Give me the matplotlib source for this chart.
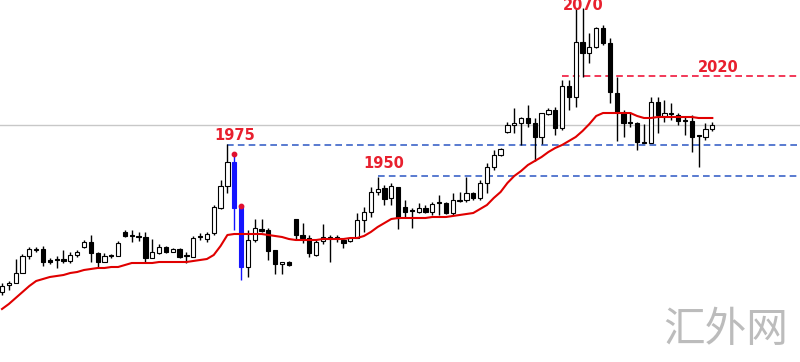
import numpy as np
import matplotlib
matplotlib.use('Agg')
import matplotlib.pyplot as plt

# candle values (arbitrary price units)
opens = [108, 115, 117, 127, 144, 150, 151, 140, 140, 141, 139, 145, 153, 158, 147, 138, 144, 144,
         168, 164, 163, 163, 142, 147, 153, 148, 151, 145, 143, 163, 161, 167, 192, 214, 238, 194,
         133, 160, 171, 170, 150, 136, 138, 181, 165, 162, 145, 159, 162, 162, 160, 159, 162, 180,
         188, 208, 212, 202, 213, 193, 189, 188, 192, 188, 197, 197, 187, 199, 200, 207, 202, 217,
         233, 245, 268, 275, 277, 282, 277, 263, 286, 290, 272, 314, 303, 358, 347, 353, 372, 357,
         307, 287, 277, 277, 258, 257, 298, 284, 286, 285, 279, 279, 264, 263, 271]
closes = [114, 117, 127, 144, 151, 151, 138, 138, 140, 139, 145, 148, 158, 147, 138, 144, 144, 157,
          164, 164, 163, 142, 148, 153, 148, 151, 143, 144, 162, 163, 166, 193, 214, 238, 192, 133,
          160, 172, 169, 149, 136, 138, 135, 165, 162, 147, 158, 163, 162, 162, 157, 162, 180, 188,
          208, 211, 201, 214, 182, 188, 189, 192, 188, 196, 197, 187, 200, 200, 207, 202, 217, 233,
          245, 251, 275, 277, 282, 277, 263, 287, 290, 272, 314, 303, 358, 347, 353, 372, 357, 308,
          288, 277, 277, 258, 257, 298, 285, 287, 286, 279, 279, 263, 264, 271, 275]
highs = [117, 119, 141, 146, 153, 153, 154, 142, 144, 150, 148, 150, 160, 165, 148, 147, 146, 159,
         170, 170, 168, 168, 161, 156, 154, 152, 152, 148, 164, 167, 168, 195, 220, 256, 246, 194,
         170, 181, 181, 172, 150, 138, 139, 181, 177, 165, 160, 176, 165, 165, 162, 163, 187, 193,
         213, 223, 215, 217, 213, 200, 192, 197, 195, 198, 205, 198, 207, 208, 223, 208, 220, 237,
         250, 252, 278, 292, 283, 295, 282, 287, 292, 293, 320, 320, 392, 392, 367, 373, 375, 362,
         323, 290, 288, 278, 276, 303, 303, 300, 297, 287, 283, 285, 265, 277, 278]
lows = [105, 110, 117, 127, 141, 148, 134, 136, 132, 137, 137, 143, 152, 138, 133, 138, 142, 144,
        163, 158, 159, 138, 142, 146, 147, 148, 142, 137, 143, 160, 158, 165, 191, 207, 170, 120,
        123, 158, 168, 140, 126, 126, 134, 160, 157, 143, 144, 156, 138, 158, 152, 158, 162, 168,
        183, 205, 195, 195, 171, 183, 172, 187, 187, 185, 185, 186, 185, 198, 198, 200, 200, 207,
        230, 244, 267, 267, 255, 273, 239, 256, 285, 265, 270, 290, 293, 323, 337, 352, 355, 297,
        259, 263, 273, 250, 257, 257, 267, 278, 280, 275, 265, 248, 233, 260, 269]
ma = [91, 96, 102, 108, 114, 119, 121, 123, 124, 125, 127, 128, 130, 131, 132, 132, 133, 133,
      135, 137, 137, 137, 137, 138, 138, 138, 138, 138, 139, 140, 141, 145, 154, 165, 166, 166,
      166, 166, 166, 165, 164, 163, 161, 160, 160, 160, 160, 161, 161, 161, 161, 162, 162, 164,
      168, 173, 177, 181, 182, 182, 182, 182, 182, 183, 183, 183, 184, 185, 186, 187, 191, 195,
      202, 208, 217, 224, 229, 235, 239, 243, 248, 252, 255, 259, 263, 269, 276, 284, 287, 287,
      287, 287, 287, 284, 282, 282, 283, 283, 283, 283, 283, 283, 282, 282, 282]

blue_candles = [34, 35]
last_price = 275
levels = [255, 224, 324]
level_starts = [33, 55, 82]
level_colors = ['#3c64c8', '#3c64c8', '#f0163c']
labels = ['1975', '1950', '2020', '2070']
label_x = [34.1, 55.9, 104.8, 85.1]
label_y = [265, 237, 332, 394]


def draw_candles(ax, o, c, h, l):
    o, c, h, l = map(np.array, (o, c, h, l))
    x = np.arange(len(o))
    colors = np.array(['black'] * len(o), dtype=object)
    colors[blue_candles] = '#1414ff'
    ax.vlines(x, l, h, colors=list(colors), linewidth=1, zorder=2)
    bottom = np.minimum(o, c)
    height = np.maximum(np.abs(c - o), 0.8)
    face = np.where(c > o, 'white', 'black').astype(object)
    face[blue_candles] = '#1414ff'
    ax.bar(x, height, bottom=bottom, width=0.62, color=list(face),
           edgecolor=list(colors), linewidth=0.8, zorder=3)
    ax.scatter(x[blue_candles], h[blue_candles], s=10, color='#e01030', zorder=4)


fig = plt.figure(figsize=(8, 3.62), dpi=100)
ax = fig.add_axes([0, 0, 1, 1])

ax.axhline(last_price, color='#c8c8c8', linewidth=1, zorder=1)
for lev, st, col in zip(levels, level_starts, level_colors):
    ax.hlines(lev, st, 120, colors=col, linestyles=(0, (4, 2.5)), linewidth=1.2, zorder=1)

ax.plot(np.arange(len(ma)), ma, color='#e00000', linewidth=1.5, zorder=4)
draw_candles(ax, opens, closes, highs, lows)

for t, tx, ty in zip(labels, label_x, label_y):
    ax.text(tx, ty, t, color='#e8202e', fontsize=10.5, fontweight='bold',
            ha='center', va='center', zorder=5)

ax.text(0.9075, 0.086, '汇外网', transform=ax.transAxes, fontsize=30, color='#bcbcbc',
        family=['Noto Sans CJK SC', 'DejaVu Sans'], fontweight='light',
        ha='center', va='center')

ax.set_xlim(-0.293, 116.84)
ax.set_ylim(38, 400)
ax.axis('off')

fig.savefig('out.png', dpi=100)
